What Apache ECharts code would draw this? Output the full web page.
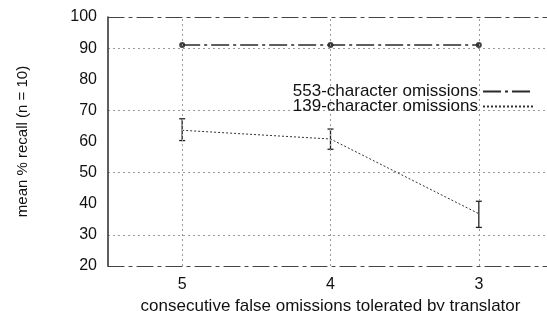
<!DOCTYPE html>
<html>
<head>
<meta charset="utf-8">
<script src="https://cdn.jsdelivr.net/npm/echarts@6/dist/echarts.min.js"></script>
<style>
  html, body { margin: 0; padding: 0; background: #fff; }
  #chart { width: 547px; height: 311px; }
</style>
</head>
<body>
<div id="chart"></div>
<script>
// consecutive false omissions tolerated, shown left to right
const tolerated = ["5", "4", "3"];

const recall553 = [91, 91, 91];
const recall139 = [63.6, 60.8, 36.8];
const err139Low = [60.3, 57.5, 32.4];
const err139High = [67.3, 64.0, 40.8];

const FONT = "'Liberation Sans', Arial, Helvetica, sans-serif";
const INK = "#2a2a2a";
const GRIDC = "#9a9a9a";

const chart = echarts.init(document.getElementById("chart"), null, { renderer: "canvas" });

const errData = tolerated.map((c, i) => [i, err139Low[i], err139High[i]]);

chart.setOption({
  animation: false,
  backgroundColor: "#fff",
  grid: { left: 108, top: 17, width: 445, height: 249, outerBoundsMode: "none", containLabel: false },
  legend: {
    orient: "vertical",
    align: "right",
    right: 8,
    top: 78,
    itemGap: -2,
    itemWidth: 50,
    itemHeight: 8,
    itemStyle: { opacity: 0 },
    textStyle: { fontFamily: FONT, fontSize: 17, color: "#111" },
    data: ["553-character omissions", "139-character omissions"],
  },
  xAxis: [
    {
      type: "category",
      data: tolerated,
      boundaryGap: true,
      name: "consecutive false omissions tolerated by translator",
      nameLocation: "middle",
      nameGap: 28,
      nameTextStyle: { fontFamily: FONT, fontSize: 17, color: "#111" },
      axisLine: { lineStyle: { color: "#444", width: 1.2, type: [16, 5, 3, 5] } },
      axisTick: { inside: true, alignWithLabel: true, length: 4, lineStyle: { color: INK } },
      axisLabel: { fontFamily: FONT, fontSize: 16, color: "#111", margin: 11 },
      splitLine: { show: false },
    },
    {
      type: "category",
      data: tolerated,
      position: "top",
      boundaryGap: true,
      axisLine: { lineStyle: { color: "#444", width: 1.2, type: [16, 5, 3, 5] } },
      axisTick: { inside: true, alignWithLabel: true, length: 4, lineStyle: { color: INK } },
      axisLabel: { show: false },
    },
  ],
  yAxis: {
    type: "value",
    min: 20,
    max: 100,
    interval: 10,
    name: "mean % recall (n = 10)",
    nameLocation: "middle",
    nameGap: 78,
    nameTextStyle: { fontFamily: FONT, fontSize: 15, color: "#111" },
    axisLine: { show: true, lineStyle: { color: INK, width: 1.5 } },
    axisTick: { inside: true, length: 4, lineStyle: { color: INK } },
    axisLabel: { fontFamily: FONT, fontSize: 16, color: "#111", margin: 11 },
    splitLine: {
      show: true,
      lineStyle: {
        // only 30/50/70/90 carry a dotted grid line
        color: ["transparent", GRIDC],
        type: [2, 3],
        width: 1,
      },
    },
  },
  series: [
    {
      name: "553-character omissions",
      type: "line",
      data: recall553,
      symbol: "none",
      lineStyle: { color: INK, width: 1.4, type: [18, 4, 3, 4] },
      itemStyle: { color: INK },
      markLine: {
        silent: true,
        symbol: "none",
        label: { show: false },
        lineStyle: { color: GRIDC, type: [2, 3], width: 1 },
        data: tolerated.map((c) => ({ xAxis: c })),
      },
    },
    {
      name: "553 dots",
      type: "scatter",
      data: recall553,
      symbol: "circle",
      symbolSize: 6,
      itemStyle: { color: "#111" },
    },
    {
      name: "139-character omissions",
      type: "line",
      data: recall139,
      symbol: "none",
      lineStyle: { color: "#333", width: 1, type: [2, 2] },
      itemStyle: { color: "#333" },
    },
    {
      name: "139 error",
      type: "custom",
      data: errData,
      renderItem: (params, api) => {
        const lo = api.coord([api.value(0), api.value(1)]);
        const hi = api.coord([api.value(0), api.value(2)]);
        const cap = 3;
        const style = { stroke: "#222", lineWidth: 1.3 };
        return {
          type: "group",
          children: [
            { type: "line", shape: { x1: lo[0], y1: lo[1], x2: hi[0], y2: hi[1] }, style },
            { type: "line", shape: { x1: lo[0] - cap, y1: lo[1], x2: lo[0] + cap, y2: lo[1] }, style },
            { type: "line", shape: { x1: hi[0] - cap, y1: hi[1], x2: hi[0] + cap, y2: hi[1] }, style },
          ],
        };
      },
    },
  ],
});
</script>
</body>
</html>
